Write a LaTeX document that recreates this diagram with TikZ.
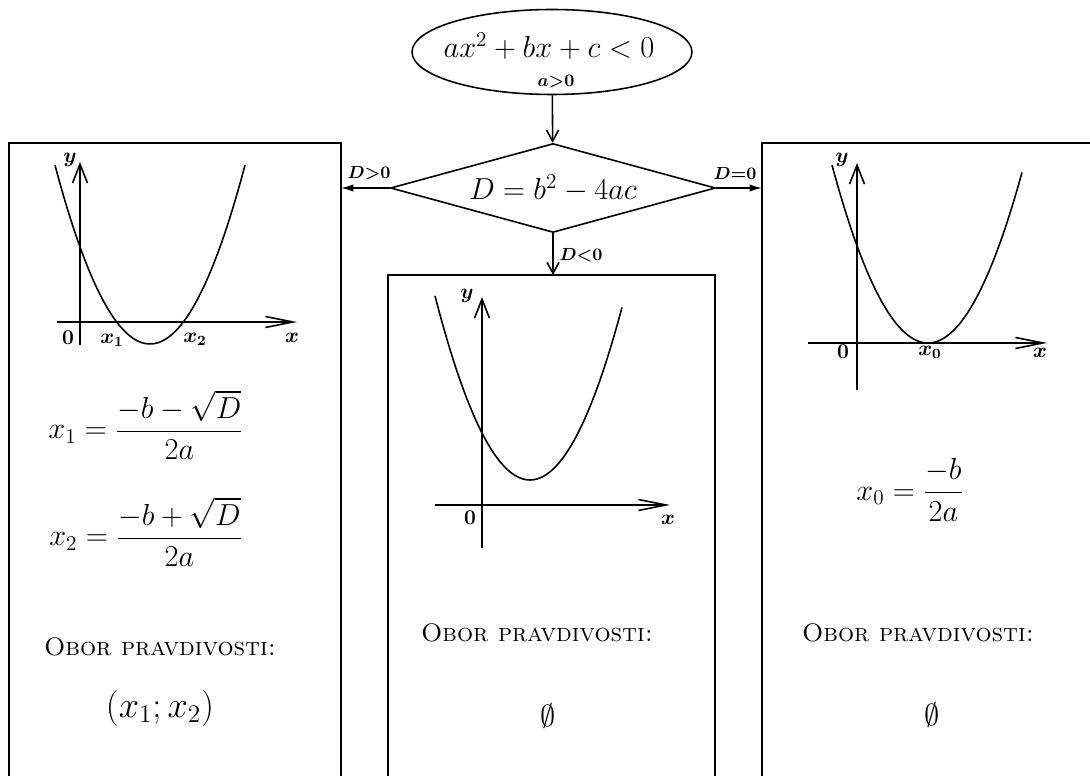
\documentclass[tikz,border=0pt]{standalone}
\usepackage{amsmath, amssymb}
\usepackage{tikz}
\usetikzlibrary{shapes.geometric, arrows.meta}

\begin{document}
\begin{tikzpicture}[x=0.02cm, y=-0.02cm, line width=0.9pt]
  \tikzstyle{oval} = [draw, ellipse, minimum width=5.6cm, minimum height=1.7cm, inner sep=0pt]
  \tikzstyle{decis} = [draw, diamond, aspect=3.6, minimum width=6.5cm, minimum height=1.78cm, inner sep=0pt, font=\fontsize{18.5}{22}\selectfont]
  \tikzstyle{cond} = [inner sep=1pt, font=\normalsize\boldmath]
  \tikzstyle{axlab} = [inner sep=1pt, font=\large\boldmath]
  \tikzstyle{res} = [inner sep=0pt, font=\LARGE]
  \tikzstyle{obor} = [inner sep=0pt, font=\Large]
  \tikzstyle{xarr} = [-{Straight Barb[length=0.55cm, width=0.22cm]}]
  \tikzstyle{yarr} = [-{Straight Barb[length=0.38cm, width=0.3cm]}]
  \useasboundingbox (0,0) rectangle (1090,776);

  % flow chart
  \node[oval] (start) at (552,52) {};
  \node[font=\LARGE] (ineq) at (549,46) {$ax^2+bx+c<0$};
  \node[cond] (apos) at (556,82) {$a{>}0$};
  \node[decis] (disc) at (553,188) {$D=b^2-4ac$};
  \draw (9,776) -- (9,143) -- (341,143) -- (341,776);
  \draw (388,776) -- (388,275) -- (715,275) -- (715,776);
  \draw (762,776) -- (762,143) -- (1095,143);
  \coordinate (lbox) at (341,188);
  \coordinate (rbox) at (762,188);
  \coordinate (mbox) at (553,275);
  \draw[-{Straight Barb[length=0.22cm, width=0.24cm]}] (start) -- (disc);
  \draw[-{Latex[length=0.25cm, width=0.15cm]}] (disc.west) -- (lbox);
  \draw[-{Latex[length=0.25cm, width=0.15cm]}] (disc.east) -- (rbox);
  \draw[-{Straight Barb[length=0.22cm, width=0.24cm]}] (disc.south) -- (mbox);
  \node[cond] (dpos) at (369,173) {$D{>}0$};
  \node[cond] (dzero) at (735,173) {$D{=}0$};
  \node[cond] (dneg) at (581,255) {$D{<}0$};

  % D>0
  \draw[yarr] (80,345) -- (80,162);
  \draw[xarr] (57,322) -- (297,322);
  \draw[domain=55:245, samples=60, smooth] plot (\x, {344-0.0198*(\x-150)^2});
  \node[axlab] (ly) at (70,160) {$y$};
  \node[axlab] (lo) at (68,338) {$0$};
  \node[axlab] (lxa) at (112,340) {$x_1$};
  \node[axlab] (lxb) at (195,339) {$x_2$};
  \node[axlab] (lx) at (292,338) {$x$};
  \node[res] (xaf) at (146,425) {$x_1 = \dfrac{-b-\sqrt{D}}{2a}$};
  \node[res] (xbf) at (146,532) {$x_2 = \dfrac{-b+\sqrt{D}}{2a}$};
  \node[obor] (lobor) at (160,647) {\textsc{Obor pravdivosti:}};
  \node[res, font=\huge] (lint) at (160,708) {$(x_1;x_2)$};

  % D<0
  \draw[yarr] (482,548) -- (482,297);
  \draw[xarr] (435,505) -- (670,505);
  \draw[domain=435:622, samples=60, smooth] plot (\x, {480-0.0204*(\x-530)^2});
  \node[axlab] (my) at (467,296) {$y$};
  \node[axlab] (mo) at (470,518) {$0$};
  \node[axlab] (mx) at (668,520) {$x$};
  \node[obor] (mobor) at (537,633) {\textsc{Obor pravdivosti:}};
  \node[res] (mset) at (548,716) {$\emptyset$};

  % D=0
  \draw[yarr] (857,390) -- (857,163);
  \draw[xarr] (808,343) -- (1047,343);
  \draw[domain=832:1022, samples=60, smooth] plot (\x, {343-0.0193*(\x-928)^2});
  \node[axlab] (ry) at (842,160) {$y$};
  \node[axlab] (ro) at (843,352) {$0$};
  \node[axlab] (rxo) at (930,352) {$x_0$};
  \node[axlab] (rx) at (1040,353) {$x$};
  \node[res] (xof) at (910,490) {$x_0 = \dfrac{-b}{2a}$};
  \node[obor] (robor) at (918,633) {\textsc{Obor pravdivosti:}};
  \node[res] (rset) at (932,715) {$\emptyset$};
\end{tikzpicture}
\end{document}
